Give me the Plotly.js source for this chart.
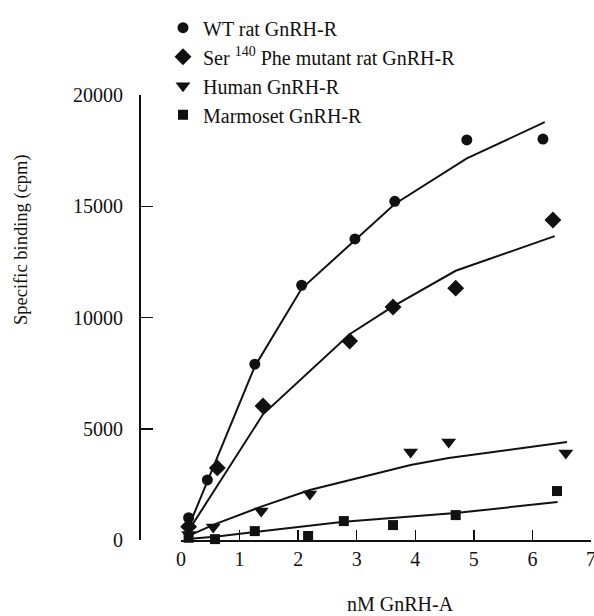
<!DOCTYPE html>
<html>
<head>
<meta charset="utf-8">
<script src="https://cdn.plot.ly/plotly-3.0.1.min.js"></script>
<style>html,body{margin:0;padding:0;background:#fff;}#chart{width:594px;height:616px;}</style>
</head>
<body>
<div id="chart"></div>
<script>
// Series names
const seriesNames = ["WT rat GnRH-R", "Ser <sup>140</sup> Phe mutant rat GnRH-R", "Human GnRH-R", "Marmoset GnRH-R"];

// Axis ticks
const xTicks = [0, 1, 2, 3, 4, 5, 6, 7];
const yTicks = [0, 5000, 10000, 15000, 20000];

// Measured points (nM GnRH-A, specific binding cpm)
const wtX = [0.13, 0.45, 1.26, 2.06, 2.97, 3.65, 4.88, 6.18];
const wtY = [1000, 2700, 7900, 11450, 13530, 15220, 17980, 18020];
const serX = [0.13, 0.62, 1.40, 2.88, 3.62, 4.69, 6.35];
const serY = [600, 3240, 6020, 8940, 10470, 11320, 14380];
const humX = [0.13, 0.55, 1.37, 2.20, 3.92, 4.57, 6.57];
const humY = [250, 580, 1300, 2070, 3960, 4400, 3910];
const marX = [0.13, 0.58, 1.26, 2.17, 2.78, 3.62, 4.69, 6.42];
const marY = [100, 40, 400, 180, 850, 670, 1120, 2200];

// Fitted curves
const wtFitX = [0.10, 1.26, 2.06, 2.97, 3.65, 4.88, 6.21];
const wtFitY = [400, 7800, 11300, 13500, 15100, 17150, 18780];
const serFitX = [0.10, 1.40, 2.88, 3.62, 4.69, 6.38];
const serFitY = [300, 5650, 9250, 10500, 12100, 13660];
const humFitX = [0.10, 0.55, 1.37, 2.20, 3.92, 4.57, 6.59];
const humFitY = [150, 680, 1500, 2250, 3370, 3690, 4400];
const marFitX = [0.10, 0.58, 1.26, 2.78, 4.69, 6.43];
const marFitY = [50, 150, 360, 820, 1210, 1710];

const FONT = "Liberation Serif, Times New Roman, serif";
const INK = "#111";

function pts(x, y, name, symbol, size, group) {
  return {x: x, y: y, name: name, type: "scatter", mode: "markers", legendgroup: group,
    cliponaxis: false, marker: {symbol: symbol, size: size, color: INK, line: {width: 0}}};
}
function fit(x, y, group) {
  return {x: x, y: y, type: "scatter", mode: "lines", showlegend: false, legendgroup: group,
    cliponaxis: false, line: {color: INK, width: 2}, hoverinfo: "skip"};
}

const data = [
  fit(wtFitX, wtFitY, "a"), fit(serFitX, serFitY, "b"), fit(humFitX, humFitY, "c"), fit(marFitX, marFitY, "d"),
  pts(wtX, wtY, seriesNames[0], "circle", 11, "a"),
  pts(serX, serY, seriesNames[1], "diamond", 13, "b"),
  pts(humX, humY, seriesNames[2], "triangle-down", 13, "c"),
  pts(marX, marY, seriesNames[3], "square", 10, "d")
];

const layout = {
  width: 594, height: 616,
  margin: {l: 140, r: 3, t: 95, b: 76, pad: 0},
  paper_bgcolor: "#fff", plot_bgcolor: "#fff",
  font: {family: FONT, size: 20, color: INK},
  showlegend: true,
  legend: {x: 0.051, y: 1.195, xanchor: "left", yanchor: "top", bgcolor: "rgba(0,0,0,0)",
    font: {family: FONT, size: 20, color: INK}, traceorder: "grouped", tracegroupgap: 0},
  xaxis: {domain: [41/451, 1], range: [0, 7.0001], tickmode: "array", tickvals: xTicks, ticktext: xTicks.map(String),
    showgrid: false, zeroline: false, ticklabeloverflow: "allow",
    showline: true, linecolor: INK, linewidth: 2, ticks: "inside", ticklen: 10, tickwidth: 1.5,
    tickcolor: INK, ticklabelstandoff: 0, tickfont: {family: FONT, size: 20, color: INK}, fixedrange: true},
  yaxis: {anchor: "free", position: 0, range: [0, 20000], tickmode: "array", tickvals: yTicks, ticktext: yTicks.map(String),
    showgrid: false, zeroline: false,
    showline: true, linecolor: INK, linewidth: 2, ticks: "inside", ticklen: 12, tickwidth: 1.5,
    tickcolor: INK, ticklabelstandoff: 12, tickfont: {family: FONT, size: 20, color: INK}, fixedrange: true},
  annotations: [
    {text: "nM GnRH-A", xref: "paper", yref: "paper", x: (400-140)/451, y: (540-604)/445,
     xanchor: "center", yanchor: "middle", showarrow: false, font: {family: FONT, size: 20, color: INK}},
    {text: "Specific binding (cpm)", xref: "paper", yref: "paper", x: (21-140)/451, y: (540-240)/445,
     xanchor: "center", yanchor: "middle", textangle: -90, showarrow: false, font: {family: FONT, size: 18.5, color: INK}}
  ]
};

Plotly.newPlot("chart", data, layout, {staticPlot: true, displayModeBar: false});
</script>
</body>
</html>
